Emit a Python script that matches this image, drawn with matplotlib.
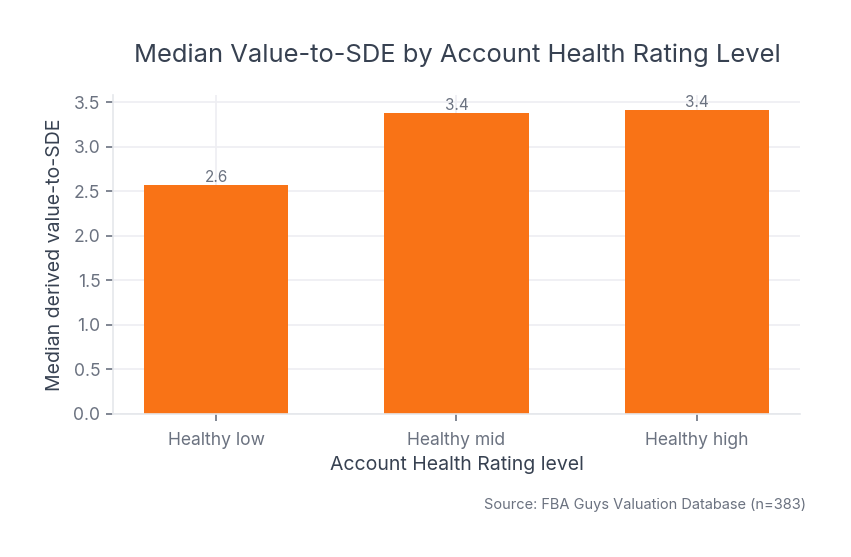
import matplotlib
matplotlib.use("Agg")
import matplotlib.pyplot as plt

categories = ["Healthy low", "Healthy mid", "Healthy high"]
values = [2.57, 3.38, 3.41]
labels = ["2.6", "3.4", "3.4"]
yticks = [0.0, 0.5, 1.0, 1.5, 2.0, 2.5, 3.0, 3.5]

plt.rcParams['font.family'] = ['Inter', 'DejaVu Sans']

fig = plt.figure(figsize=(8.51, 5.57), dpi=100)
ax = fig.add_axes([113/851, 1 - 414/557, (800-113)/851, (414-95)/557])

x = range(len(categories))
bars = ax.bar(x, values, width=0.6, color="#f97316", zorder=2)
for b, lab in zip(bars, labels):
    ax.text(b.get_x() + b.get_width()/2, b.get_height(), lab, ha="center", va="bottom",
            fontsize=11, color="#6b7280", zorder=3)

ax.set_xlim(-0.43, 2.43)
ax.set_ylim(0, 3.58)
ax.set_yticks(yticks)
ax.set_yticklabels([f"{t:.1f}" for t in yticks])
ax.set_xticks(list(x))
ax.set_xticklabels(categories)
ax.grid(True, color="#eeeef2", linewidth=1.2, zorder=0)
ax.set_axisbelow(True)

for s in ["top", "right"]:
    ax.spines[s].set_visible(False)
for s in ["left", "bottom"]:
    ax.spines[s].set_color("#e5e7eb")
    ax.spines[s].set_linewidth(1.2)
ax.tick_params(axis="both", colors="#6b7280", labelsize=12.6, length=5, width=1.2, direction="out")
ax.tick_params(axis="y", pad=4)
ax.tick_params(axis="x", pad=8)

ax.set_xlabel("Account Health Rating level", fontsize=14, color="#374151", labelpad=5)
ax.set_ylabel("Median derived value-to-SDE", fontsize=14, color="#374151", labelpad=7)
fig.text(457/851, 1 - 55/557, "Median Value-to-SDE by Account Health Rating Level",
         ha="center", va="center", fontsize=18.4, color="#374151")
fig.text(806/851, 1 - 505/557, "Source: FBA Guys Valuation Database (n=383)",
         ha="right", va="center", fontsize=10.5, color="#6b7280")

fig.savefig("out.png", dpi=100)
